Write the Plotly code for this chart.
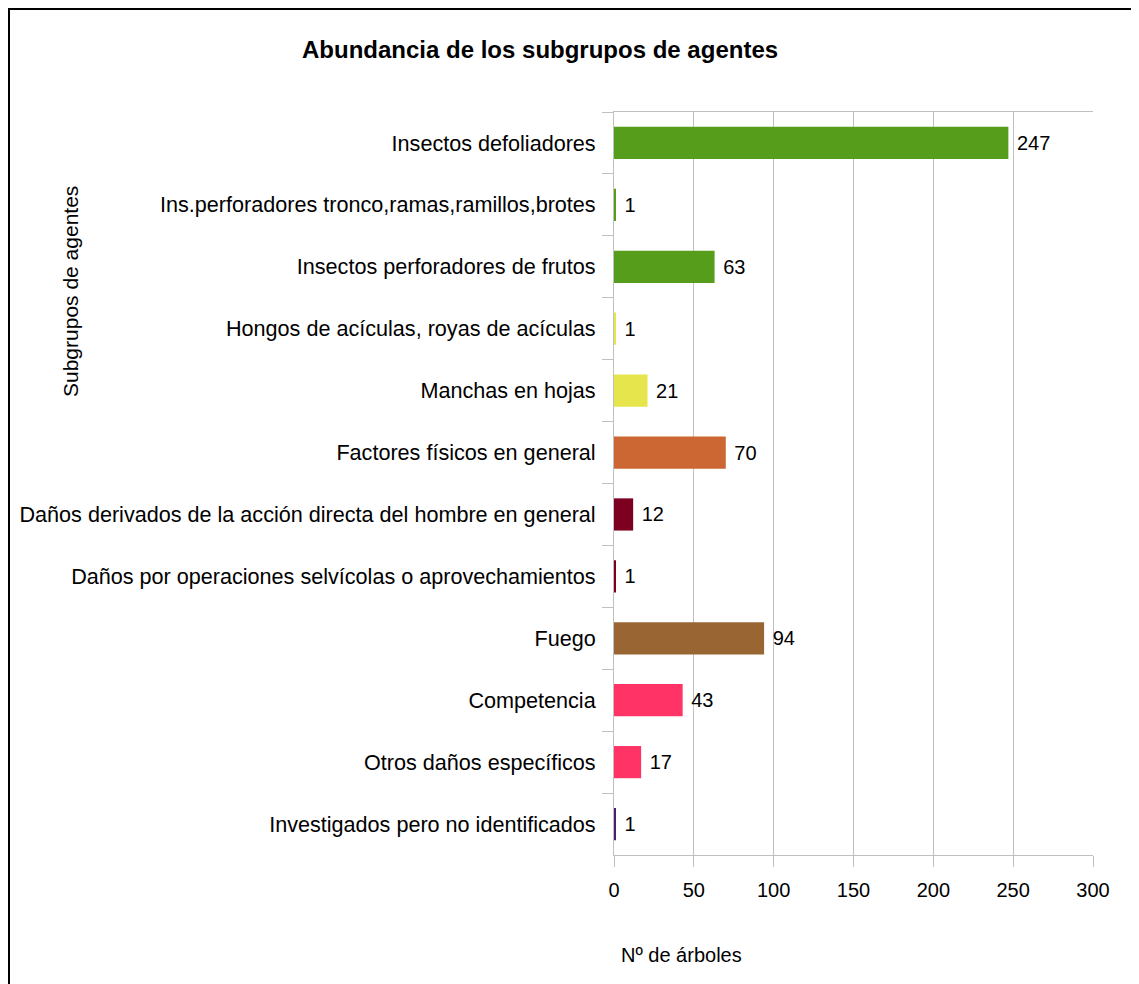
import plotly.graph_objects as go

categories = [
    "Insectos defoliadores",
    "Ins.perforadores tronco,ramas,ramillos,brotes",
    "Insectos perforadores de frutos",
    "Hongos de acículas, royas de acículas",
    "Manchas en hojas",
    "Factores físicos en general",
    "Daños derivados de la acción directa del hombre en general",
    "Daños por operaciones selvícolas o aprovechamientos",
    "Fuego",
    "Competencia",
    "Otros daños específicos",
    "Investigados pero no identificados",
]
values = [247, 1, 63, 1, 21, 70, 12, 1, 94, 43, 17, 1]
colors = ["#579d1c", "#579d1c", "#579d1c", "#e6e64c", "#e6e64c", "#cc6633",
          "#7e0021", "#7e0021", "#996633", "#ff3366", "#ff3366", "#4b1f6f"]
x_ticks = [0, 50, 100, 150, 200, 250, 300]

OFF = 8  # page body margin
W, H = 1139 - OFF, 984 - OFF
L, R, T, B = 614, 1093, 112, 855  # page coordinates of plot area

def px(xp):
    return (xp - L) / (R - L)

def py(yp):
    return (B - yp) / (B - T)

FONT = "Liberation Sans, Arial, sans-serif"

fig = go.Figure(go.Bar(
    x=values, y=categories, orientation="h",
    marker=dict(color=colors, line=dict(width=0)),
    text=[str(v) for v in values], texttemplate="\u00a0%{text}", textposition="outside",
    textfont=dict(family=FONT, size=20, color="#000000"),
    cliponaxis=False, hoverinfo="skip",
))

fig.update_layout(
    width=W, height=H,
    margin=dict(l=L - OFF, r=W - (R - OFF), t=T - OFF, b=H - (B - OFF), pad=0),
    paper_bgcolor="white", plot_bgcolor="white",
    showlegend=False, bargap=0.48,
    font=dict(family=FONT, size=20, color="#000000"),
    xaxis=dict(
        range=[0, 300], tickvals=x_ticks, ticktext=[str(t) for t in x_ticks],
        showgrid=True, gridcolor="#c0c0c0", gridwidth=1,
        showline=True, linecolor="#c0c0c0", linewidth=1, mirror=True,
        ticks="outside", ticklen=11, tickcolor="#c0c0c0", ticklabelstandoff=6,
        tickfont=dict(family=FONT, size=20, color="#000000"),
        zeroline=False, fixedrange=True,
    ),
    yaxis=dict(
        categoryorder="array", categoryarray=categories, autorange="reversed",
        showgrid=False, showline=True, linecolor="#c0c0c0", linewidth=1,
        ticks="outside", ticklen=11, tickcolor="#c0c0c0", tickson="boundaries",
        ticklabelstandoff=13,
        tickfont=dict(family=FONT, size=21.6, color="#000000"),
        zeroline=False, fixedrange=True,
    ),
    annotations=[
        dict(text="<b>Abundancia de los subgrupos de agentes</b>", xref="paper", yref="paper",
             x=px(540), y=py(50), xanchor="center", yanchor="middle", showarrow=False,
             font=dict(family=FONT, size=24, color="#000000")),
        dict(text="Subgrupos de agentes", xref="paper", yref="paper",
             x=px(70), y=py(292), xanchor="center", yanchor="middle", showarrow=False,
             textangle=-90, font=dict(family=FONT, size=21, color="#000000")),
        dict(text="Nº de árboles", xref="paper", yref="paper",
             x=px(681), y=py(955), xanchor="center", yanchor="middle", showarrow=False,
             font=dict(family=FONT, size=20, color="#000000")),
    ],
    shapes=[
        dict(type="rect", xref="paper", yref="paper",
             x0=px(9), x1=px(1160), y0=py(9), y1=py(1010),
             line=dict(color="#000000", width=2), fillcolor="rgba(0,0,0,0)", layer="above"),
    ],
)

fig.write_html("out.html")
